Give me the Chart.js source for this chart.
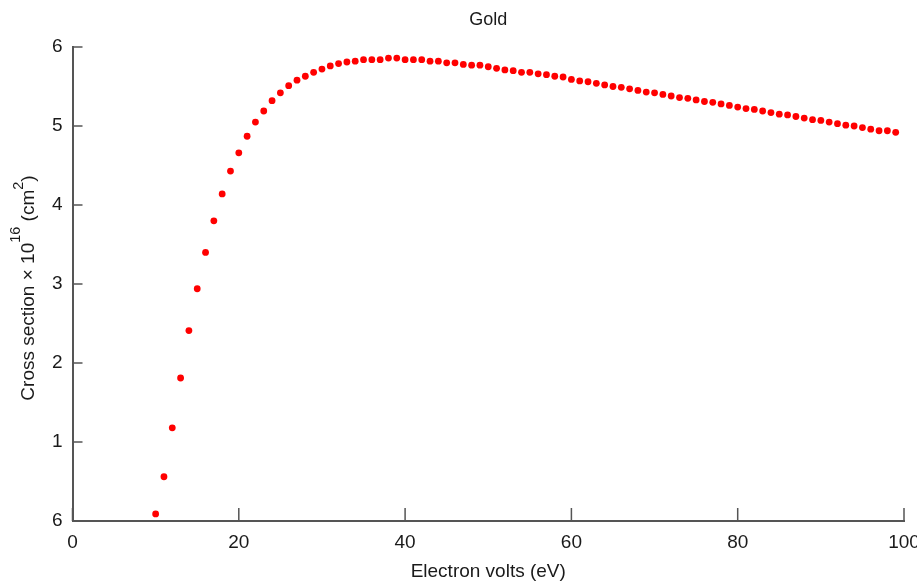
<!DOCTYPE html>
<html>
<head>
<meta charset="utf-8">
<script src="https://cdn.jsdelivr.net/npm/chart.js@4.4.0/dist/chart.umd.min.js"></script>
<style>
  html, body { margin: 0; padding: 0; background: #ffffff; }
  #wrap { width: 917px; height: 583px; }
</style>
</head>
<body>
<div id="wrap"><canvas id="c" width="917" height="583"></canvas></div>
<script>
const chartTitle = 'Gold';
const xAxisTitle = 'Electron volts (eV)';
const yTitleParts = ['Cross section \u00d7 10', '16', ' (cm', '2', ')'];

const electronVolts = [
  10, 11, 12, 13, 14, 15, 16, 17, 18, 19,
  20, 21, 22, 23, 24, 25, 26, 27, 28, 29,
  30, 31, 32, 33, 34, 35, 36, 37, 38, 39,
  40, 41, 42, 43, 44, 45, 46, 47, 48, 49,
  50, 51, 52, 53, 54, 55, 56, 57, 58, 59,
  60, 61, 62, 63, 64, 65, 66, 67, 68, 69,
  70, 71, 72, 73, 74, 75, 76, 77, 78, 79,
  80, 81, 82, 83, 84, 85, 86, 87, 88, 89,
  90, 91, 92, 93, 94, 95, 96, 97, 98, 99
];
const crossSection = [
  0.09, 0.56, 1.18, 1.81, 2.41, 2.94, 3.40, 3.80, 4.14, 4.43,
  4.66, 4.87, 5.05, 5.19, 5.32, 5.42, 5.51, 5.58, 5.63, 5.68,
  5.72, 5.76, 5.79, 5.81, 5.82, 5.84, 5.84, 5.84, 5.86, 5.86,
  5.84, 5.84, 5.84, 5.82, 5.82, 5.80, 5.80, 5.78, 5.77, 5.77,
  5.75, 5.73, 5.71, 5.70, 5.68, 5.68, 5.66, 5.65, 5.63, 5.62,
  5.59, 5.57, 5.56, 5.54, 5.52, 5.50, 5.49, 5.47, 5.45, 5.43,
  5.42, 5.40, 5.38, 5.36, 5.35, 5.33, 5.31, 5.30, 5.28, 5.26,
  5.24, 5.22, 5.21, 5.19, 5.17, 5.15, 5.14, 5.12, 5.10, 5.08,
  5.07, 5.05, 5.03, 5.01, 5.00, 4.98, 4.96, 4.94, 4.94, 4.92
];
const xTickValues = [0, 20, 40, 60, 80, 100];
const xTickLabels = ['0', '20', '40', '60', '80', '100'];
const yTickValues = [0, 1, 2, 3, 4, 5, 6];
const yTickLabels = ['6', '1', '2', '3', '4', '5', '6'];

const FONT = '"Liberation Sans", Arial, Helvetica, sans-serif';
const TEXT = '#1a1a1a';
const AXIS = '#555555';

const points = electronVolts.map((x, i) => ({ x: x, y: crossSection[i] }));

const decorPlugin = {
  id: 'decor',
  afterDraw(chart) {
    const ctx = chart.ctx;
    const xs = chart.scales.x, ys = chart.scales.y;
    const area = chart.chartArea;
    ctx.save();
    // inward tick marks
    ctx.strokeStyle = AXIS;
    ctx.lineWidth = 1.5;
    ctx.beginPath();
    xTickValues.forEach(v => {
      const px = xs.getPixelForValue(v);
      ctx.moveTo(px, area.bottom);
      ctx.lineTo(px, area.bottom - 13);
    });
    yTickValues.forEach(v => {
      const py = ys.getPixelForValue(v);
      ctx.moveTo(area.left, py);
      ctx.lineTo(area.left + 10, py);
    });
    ctx.stroke();

    // chart title
    ctx.fillStyle = TEXT;
    ctx.font = '18px ' + FONT;
    ctx.textAlign = 'center';
    ctx.textBaseline = 'middle';
    ctx.fillText(chartTitle, (area.left + area.right) / 2, 20);

    // y-axis title with superscripts
    const mainFont = '19px ' + FONT;
    const supFont = '14.5px ' + FONT;
    const fonts = [mainFont, supFont, mainFont, supFont, mainFont];
    const raise = [0, -14, 0, -11, 0];
    let widths = yTitleParts.map((t, i) => { ctx.font = fonts[i]; return ctx.measureText(t).width; });
    const total = widths.reduce((a, b) => a + b, 0);
    ctx.translate(34, 288);
    ctx.rotate(-Math.PI / 2);
    ctx.textAlign = 'left';
    ctx.textBaseline = 'alphabetic';
    let pos = -total / 2;
    yTitleParts.forEach((t, i) => {
      ctx.font = fonts[i];
      ctx.fillText(t, pos, raise[i]);
      pos += widths[i];
    });
    ctx.restore();
  }
};

new Chart(document.getElementById('c'), {
  type: 'scatter',
  data: {
    datasets: [{
      data: points,
      backgroundColor: '#ff0000',
      borderColor: '#ff0000',
      borderWidth: 0,
      pointRadius: 3.4,
      pointHoverRadius: 3.4,
      pointStyle: 'circle'
    }]
  },
  options: {
    responsive: false,
    animation: false,
    events: [],
    layout: { padding: { top: 47, right: 13, left: 0, bottom: 0 }, autoPadding: false },
    plugins: { legend: { display: false }, tooltip: { enabled: false }, title: { display: false } },
    scales: {
      x: {
        type: 'linear',
        min: 0, max: 100,
        afterFit(scale) { scale.height = 62; scale.paddingLeft = 0; scale.paddingRight = 0; },
        afterBuildTicks(scale) { scale.ticks = xTickValues.map(v => ({ value: v })); },
        grid: { display: false, drawTicks: false },
        border: { display: true, color: AXIS, width: 2 },
        ticks: {
          padding: 10,
          color: TEXT,
          font: { family: FONT, size: 19 },
          maxRotation: 0,
          autoSkip: false,
          callback: (v, i) => xTickLabels[i]
        },
        title: {
          display: true,
          text: xAxisTitle,
          color: TEXT,
          font: { family: FONT, size: 19 },
          padding: { top: 0, bottom: 0 }
        }
      },
      y: {
        type: 'linear',
        min: 0, max: 6,
        afterFit(scale) { scale.width = 72.5; scale.paddingTop = 0; scale.paddingBottom = 0; },
        afterBuildTicks(scale) { scale.ticks = yTickValues.map(v => ({ value: v })); },
        grid: { display: false, drawTicks: false },
        border: { display: true, color: AXIS, width: 2 },
        ticks: {
          padding: 10,
          color: TEXT,
          font: { family: FONT, size: 19 },
          autoSkip: false,
          callback: (v, i) => yTickLabels[i]
        }
      }
    }
  },
  plugins: [decorPlugin]
});
</script>
</body>
</html>
